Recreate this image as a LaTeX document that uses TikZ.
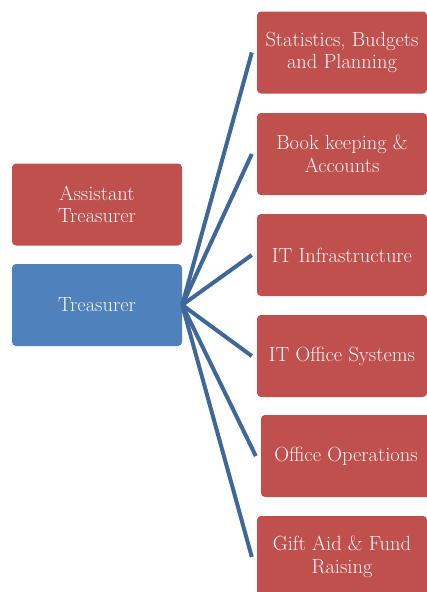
\documentclass[tikz,border=0pt]{standalone}
\usepackage{fontspec}
\setmainfont{Latin Modern Roman}
\definecolor{boxred}{HTML}{C0504D}
\definecolor{boxblue}{HTML}{4F81BD}
\definecolor{linkblue}{HTML}{3F6797}
\definecolor{txt}{HTML}{F6F6F6}
\tikzset{
  unit/.style={rectangle, rounded corners=4pt, minimum width=170pt, minimum height=82pt,
    inner sep=2pt, align=center, text=txt, font=\fontsize{20.5}{22.5}\selectfont},
  redbox/.style={unit, fill=boxred},
  bluebox/.style={unit, fill=boxblue},
  link/.style={draw=linkblue, line width=4pt}
}
\begin{document}
\begin{tikzpicture}[x=1pt,y=-1pt]
\useasboundingbox (0,0) rectangle (427,592);
\begin{scope}
\clip (0,0) rectangle (427,592);
\node[redbox] (asst) at (97,204.5) {Assistant\\Treasurer};
\node[bluebox] (tr) at (97,305) {Treasurer};
\node[redbox] (b1) at (342,52.5) {Statistics, Budgets\\and Planning};
\node[redbox] (b2) at (342,154) {Book keeping \&\\Accounts};
\node[redbox] (b3) at (342,255) {IT Infrastructure};
\node[redbox] (b4) at (342,356) {IT Office Systems};
\node[redbox] (b5) at (346,456) {Office Operations};
\node[redbox] (b6) at (342,557) {Gift Aid \& Fund\\Raising};
\foreach \n in {b1,b2,b3,b4,b5,b6}{
  \coordinate (\n e) at ([xshift=-5pt]\n.west);
  \draw[link] (tr.east) -- (\n e);
}
\end{scope}
\end{tikzpicture}
\end{document}
